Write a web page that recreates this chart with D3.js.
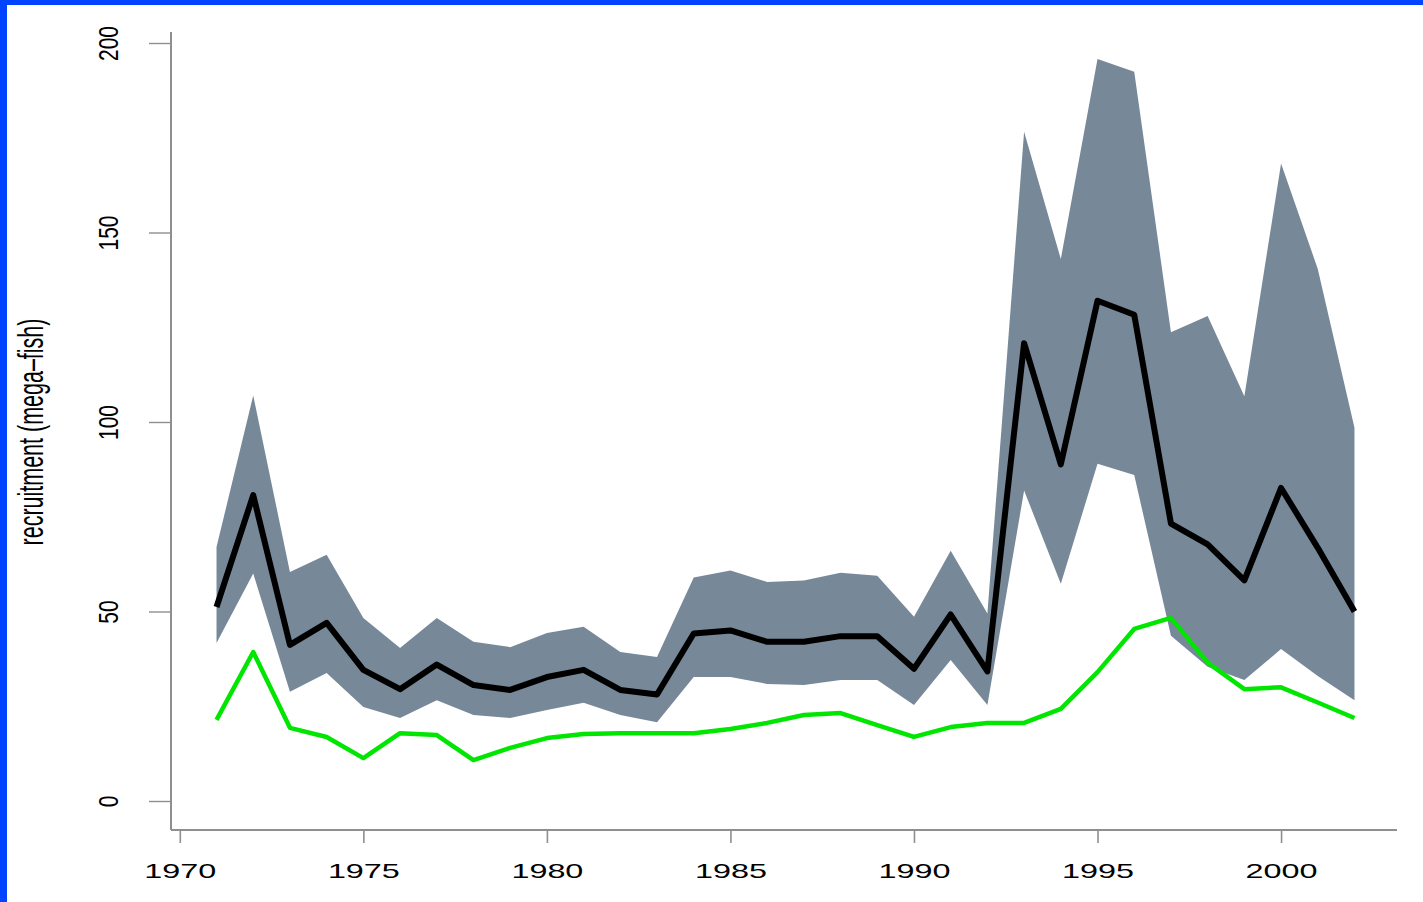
<!DOCTYPE html>
<html>
<head>
<meta charset="utf-8">
<script src="https://cdn.jsdelivr.net/npm/d3@7"></script>
<style>
  html, body { margin: 0; padding: 0; background: #ffffff; }
  svg { display: block; }
</style>
</head>
<body>
<svg id="chart" width="1423" height="902"></svg>
<script>
// ---- data ----
const years = [1971,1972,1973,1974,1975,1976,1977,1978,1979,1980,1981,1982,1983,1984,1985,1986,
               1987,1988,1989,1990,1991,1992,1993,1994,1995,1996,1997,1998,1999,2000,2001,2002];
const upperBound = [67,107,60.4,65,48.3,40.4,48.3,42,40.6,44.3,46,39.3,38,59,60.8,57.8,
                    58.2,60.2,59.4,48.6,66,49.5,176.6,143,195.8,192.4,123.7,128,106.8,168.2,140.4,98.5];
const estimate   = [51.2,80.7,41.2,47,34.6,29.5,36,30.6,29.3,32.7,34.6,29.3,28.1,44.2,45,42,
                    42,43.5,43.5,34.9,49.2,34.2,120.8,88.8,132,128.3,73.2,67.7,58.2,82.6,66.8,50];
const lowerBound = [41.7,60,28.8,33.8,24.8,21.9,26.6,22.7,21.9,24,25.9,22.7,20.8,32.7,32.7,30.9,
                    30.6,31.9,31.9,25.3,37.2,25.3,81.9,57.3,89,86,43.6,35.4,31.9,40.1,33,26.6];
const otherSeries = [21.4,39.3,19.3,16.9,11.3,17.9,17.4,10.8,14,16.6,17.7,17.9,17.9,17.9,19,20.6,
                     22.7,23.2,20,16.9,19.5,20.6,20.6,24.3,34,45.4,48.3,36.5,29.5,30,26,21.9];
const xTicks = [1970,1975,1980,1985,1990,1995,2000];
const yTicks = [0,50,100,150,200];
const yTitle = "recruitment (mega\u2013fish)";

// ---- layout ----
const svg = d3.select("#chart");
const W = 1423, H = 902;
const plotLeft = 171, plotRight = 1397, plotTop = 32, plotBottom = 830;

// blue frame
svg.append("rect").attr("x",0).attr("y",0).attr("width",W).attr("height",H).attr("fill","#0044ff");
svg.append("rect").attr("x",7).attr("y",5).attr("width",W-7).attr("height",H-5).attr("fill","#ffffff");

const x = d3.scaleLinear().domain([1969.76, 2003.24]).range([171, 1400]);
const y = d3.scaleLinear().domain([0, 200]).range([801, 43]);

const rows = years.map((yr,i) => ({yr, hi: upperBound[i], mid: estimate[i], lo: lowerBound[i], g: otherSeries[i]}));

// band
svg.append("path")
  .datum(rows)
  .attr("fill", "#778899")
  .attr("d", d3.area().x(d => x(d.yr)).y0(d => y(d.lo)).y1(d => y(d.hi)));

// estimate line
svg.append("path")
  .datum(rows)
  .attr("fill","none").attr("stroke","#000").attr("stroke-width",6)
  .attr("stroke-linejoin","round")
  .attr("d", d3.line().x(d => x(d.yr)).y(d => y(d.mid)));

// green line
svg.append("path")
  .datum(rows)
  .attr("fill","none").attr("stroke","#00e600").attr("stroke-width",4.5)
  .attr("stroke-linejoin","round")
  .attr("d", d3.line().x(d => x(d.yr)).y(d => y(d.g)));

const axisColor = "#8f8f8f";

// axis lines (L-shaped box)
svg.append("line").attr("x1",plotLeft).attr("x2",plotLeft).attr("y1",plotTop).attr("y2",plotBottom)
  .attr("stroke",axisColor).attr("stroke-width",2);
svg.append("line").attr("x1",plotLeft).attr("x2",plotRight).attr("y1",plotBottom).attr("y2",plotBottom)
  .attr("stroke",axisColor).attr("stroke-width",2);

// x axis
const gx = svg.append("g").attr("transform",`translate(0,${plotBottom})`)
  .call(d3.axisBottom(x).tickValues(xTicks).tickFormat(d3.format("d")).tickSize(13).tickSizeOuter(0));
gx.select(".domain").remove();
gx.selectAll(".tick line").attr("stroke",axisColor).attr("stroke-width",1.6);
gx.selectAll(".tick text")
  .attr("y",48).attr("dy",null)
  .attr("fill","#000")
  .style("font-family","'Liberation Sans', Arial, sans-serif")
  .style("font-size","21px")
  .attr("transform","scale(1.54,1)");

// y axis
const gy = svg.append("g").attr("transform",`translate(${plotLeft},0)`)
  .call(d3.axisLeft(y).tickValues(yTicks).tickFormat(d3.format("d")).tickSize(22).tickSizeOuter(0));
gy.select(".domain").remove();
gy.selectAll(".tick line").attr("stroke",axisColor).attr("stroke-width",1.4);
gy.selectAll(".tick text")
  .attr("x",null).attr("dy",null)
  .attr("text-anchor","middle")
  .attr("fill","#000")
  .style("font-family","'Liberation Sans', Arial, sans-serif")
  .style("font-size","21px")
  .attr("transform","translate(-53,0) scale(1.33,1) rotate(-90)");

// y title
svg.append("text")
  .attr("transform","translate(43,432) scale(1.6,1) rotate(-90)")
  .attr("text-anchor","middle")
  .attr("fill","#000")
  .style("font-family","'Liberation Sans', Arial, sans-serif")
  .style("font-size","21.5px")
  .text(yTitle);
</script>
</body>
</html>
